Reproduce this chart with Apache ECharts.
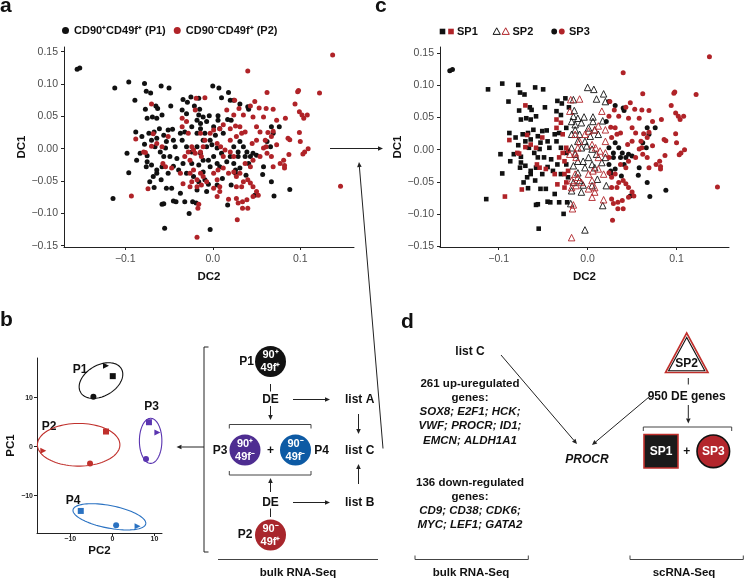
<!DOCTYPE html>
<html>
<head>
<meta charset="utf-8">
<script src="https://cdn.jsdelivr.net/npm/echarts@6/dist/echarts.min.js"></script>
<style>
  html, body { margin: 0; padding: 0; background: #fff; }
  #chart { width: 745px; height: 579px; }
</style>
</head>
<body>
<div id="chart"></div>
<script>
const FONT = '"Liberation Sans", Arial, sans-serif';
const BLACK = '#111111';
const RED = '#b02328';

// diffusion map cells: [DC2, DC1, scRNA cluster (1=SP1, 2=SP2, 3=SP3)]
const p1Cells = [
  [-0.155,0.123,3],[-0.152,0.125,3],
  [-0.112,0.094,1],[-0.096,0.103,1],[-0.078,0.101,1],[-0.076,0.089,1],[-0.071,0.086,1],[-0.089,0.075,1],[-0.059,0.097,1],[-0.050,0.094,1],
  [-0.077,0.061,1],[-0.065,0.066,1],[-0.063,0.062,1],[-0.048,0.066,1],
  [-0.075,0.047,1],[-0.069,0.049,1],[-0.064,0.047,1],[-0.058,0.052,1],
  [-0.034,0.076,1],[-0.029,0.072,1],[-0.025,0.080,1],[-0.016,0.078,2],[-0.035,0.060,1],[-0.030,0.054,1],[-0.021,0.066,1],[-0.015,0.061,2],
  [0.000,0.097,2],[0.007,0.094,2],[0.018,0.087,2],[0.010,0.079,2],[0.020,0.075,2],
  [-0.004,0.051,2],[0.006,0.051,2],[0.017,0.045,2],[0.021,0.044,3],
  [-0.088,0.026,1],[-0.081,0.019,1],[-0.073,0.024,1],[-0.067,0.026,1],[-0.061,0.031,1],[-0.056,0.021,1],[-0.051,0.029,1],[-0.046,0.030,1],
  [-0.098,-0.007,1],[-0.096,-0.037,1],[-0.078,0.007,1],[-0.076,-0.028,1],[-0.075,-0.011,1],[-0.072,-0.051,1],[-0.068,-0.043,1],[-0.064,-0.038,1],
  [-0.114,-0.077,1],[-0.055,-0.123,1],[-0.058,-0.086,1],[-0.056,-0.085,1],[-0.045,-0.081,1],[-0.042,-0.082,1],[-0.032,-0.082,1],[-0.027,-0.100,1],[-0.023,-0.082,1],[-0.019,-0.084,2],[-0.003,-0.125,2],
  [-0.037,-0.069,1],[-0.047,-0.061,1],[-0.053,-0.061,1],[-0.067,-0.060,1],[-0.059,-0.048,1],[-0.051,-0.038,1],[-0.045,-0.027,1],[-0.039,-0.033,1],[-0.034,-0.023,1],[-0.030,-0.038,1],[-0.022,-0.043,1],
  [-0.016,-0.051,2],[-0.011,-0.036,2],[-0.009,-0.048,2],[-0.005,-0.055,2],[-0.018,-0.064,2],[-0.007,-0.066,2],[0.005,-0.056,2],[0.011,-0.046,2],[0.017,-0.087,2],[0.021,-0.056,2],
  [0.026,-0.033,3],[0.031,-0.030,3],[0.041,-0.023,3],[0.043,-0.012,3],[0.046,-0.007,3],[0.050,-0.010,3],[0.058,-0.028,3],[0.057,-0.040,3],[0.067,-0.051,3],[0.070,-0.073,3],[0.088,-0.063,3],[0.048,-0.072,3],[0.038,-0.041,3],
  [0.040,0.065,3],[0.041,0.061,3],[0.031,0.069,3],[0.024,0.075,3],[0.067,0.034,3],[0.076,0.034,3],[0.069,0.024,3],[0.062,0.011,3],[0.066,0.003,3],
  [0.001,0.034,2],[0.006,0.044,2],[0.008,0.031,2],[0.012,0.024,2],[0.003,0.021,2],[-0.003,0.013,2],[-0.009,0.024,2],[-0.014,0.031,2],[-0.018,0.024,2],
  [-0.035,0.013,1],[-0.030,0.003,1],[-0.024,-0.005,1],[-0.018,0.003,2],[-0.014,-0.007,2],[-0.011,-0.018,2],[-0.016,-0.025,2],[-0.005,-0.018,2],[0.001,-0.012,2],[0.005,-0.023,2],[0.008,-0.028,2],[-0.003,-0.028,2],[-0.024,-0.023,1],
  [-0.011,0.013,2],[-0.007,0.003,2],[-0.001,0.006,2],[0.005,0.001,2],[0.010,-0.007,2],
  [-0.043,0.003,1],[-0.049,-0.012,1],[-0.041,-0.015,1],[-0.056,-0.012,1],[-0.060,-0.005,1],[-0.066,0.003,1],[-0.070,0.013,1],[-0.064,0.016,1],[-0.053,0.011,1],[-0.054,0.001,1],
  [-0.083,-0.007,1],[-0.087,-0.018,1],[-0.075,-0.020,1],[-0.070,-0.025,1],[-0.064,-0.033,1],[-0.058,-0.028,1],
  [-0.045,0.013,1],[-0.037,0.024,1],[-0.032,0.026,1],[-0.024,0.034,1],[-0.018,0.044,2],[-0.014,0.039,2],[-0.007,0.042,2],[-0.011,0.049,2],[-0.016,0.052,2],
  [0.024,0.003,3],[0.029,-0.005,3],[0.037,-0.012,3],[0.035,0.003,3],[0.031,0.011,3],[0.020,-0.012,2],[0.016,-0.020,2],[0.024,-0.023,3],[0.026,-0.038,3],[0.029,-0.012,3],[0.039,-0.005,3]
];

const p2Cells = [
  [0.137,0.145,3],[0.040,0.120,3],[0.146,-0.058,3],[0.122,0.086,3],[0.097,0.088,3],[0.098,0.090,3],[0.062,0.087,3],[0.048,0.073,3],[0.025,0.075,3],[0.030,0.062,3],
  [-0.009,0.079,2],[-0.019,0.078,2],[-0.020,0.060,2],[-0.070,0.069,1],[0.016,0.060,2],[0.024,0.052,3],[0.035,0.052,3],[0.043,0.066,3],[0.053,0.063,3],[0.061,0.062,3],[0.069,0.061,3],
  [0.083,0.047,3],[0.102,0.052,3],[0.108,0.052,3],[0.104,0.047,3],[0.094,0.069,3],[0.099,0.057,3],[0.099,0.025,3],[0.088,0.014,3],[0.109,0.000,3],[0.105,-0.005,3],[0.103,-0.008,3],
  [0.087,-0.009,3],[0.081,-0.018,3],[0.082,-0.026,3],[0.082,-0.030,3],[0.069,-0.028,3],[0.073,0.006,3],[0.067,0.019,3],[0.069,0.027,3],[0.063,0.025,3],
  [0.054,0.026,3],[0.060,0.013,3],[0.050,0.013,3],[0.045,0.008,3],[0.061,0.003,3],[0.062,-0.007,3],
  [0.054,-0.012,3],[0.046,-0.018,3],[0.043,-0.028,3],[0.037,-0.023,3],
  [0.040,-0.048,3],[0.043,-0.053,3],[0.046,-0.059,3],[0.050,-0.066,3],[0.052,-0.072,3],[0.046,-0.074,3],
  [0.039,-0.079,3],[0.034,-0.092,3],[0.040,-0.092,3],[0.034,-0.082,3],[0.029,-0.084,3],[0.027,-0.077,3],[0.028,-0.110,3],
  [0.018,-0.078,2],[0.008,-0.066,2],[0.005,-0.074,2],[0.001,-0.061,2],
  [-0.016,-0.086,2],[-0.017,-0.092,2],[-0.018,-0.137,2],[-0.074,-0.062,1],[-0.093,-0.073,1],[-0.088,0.015,1],[-0.077,-0.006,1],[-0.070,0.004,1],[-0.068,0.023,1],
  [-0.058,0.003,1],[-0.057,-0.023,1],[-0.054,-0.028,1],[-0.047,-0.030,1],
  [-0.035,0.034,1],[-0.030,0.042,1],[-0.035,0.047,1],[-0.028,0.024,1],
  [-0.024,0.003,1],[-0.022,-0.002,1],[-0.020,-0.007,2],[-0.028,-0.005,1],[-0.026,-0.018,1],[-0.032,-0.012,1],
  [-0.014,0.024,2],[-0.009,0.013,2],[-0.003,0.024,2],[0.001,0.029,2],[0.008,0.031,2],[0.012,0.037,2],[0.020,0.031,2],[0.026,0.035,3],
  [0.020,0.013,2],[0.027,0.019,3],[0.033,0.024,3],[0.037,0.026,3],[0.031,0.034,3],
  [0.005,0.008,2],[0.009,0.003,2],[0.014,-0.002,2],[0.020,-0.005,2],[0.024,-0.012,3],[0.012,-0.012,2],
  [-0.011,0.003,2],[-0.014,-0.005,2],[-0.013,-0.012,2],
  [-0.022,-0.033,1],[-0.014,-0.038,2],[-0.011,-0.043,2],[-0.007,-0.051,2],[-0.013,-0.056,2],[-0.018,-0.059,2],
  [-0.026,-0.059,1],[-0.024,-0.051,1],[-0.018,-0.048,2],
  [0.001,-0.038,2],[0.006,-0.033,2],[0.012,-0.030,2],[0.018,-0.038,2],[0.024,-0.036,3],[0.027,-0.043,3],
  [0.031,-0.038,3],[0.035,-0.051,3],[0.033,-0.059,3],[0.027,-0.059,3],
  [0.005,-0.048,2],[0.008,-0.059,2],
  [-0.037,-0.038,1],[-0.034,-0.054,1],[-0.026,-0.038,1],
  [0.046,0.049,3],[0.058,0.049,3],[0.050,0.034,3],[0.073,0.044,3],[0.058,0.001,3],[0.067,-0.012,3],[0.086,0.016,3],[0.100,0.011,3],[0.077,-0.023,3],
  [-0.079,-0.005,1],[-0.064,0.008,1],[-0.051,0.019,1]
];

const dcXTicks = [-0.1, 0, 0.1];
const dcYTicks = [-0.15, -0.1, -0.05, 0, 0.05, 0.1, 0.15];
const pcTicks = [-10, 0, 10];

// bulk RNA-seq PCA replicates: [PC2, PC1, replicate shape]
const pcaP1 = [[-1.5, 16.5, 'tri'], [0.1, 14.4, 'sq'], [-4.5, 10.2, 'dot']];
const pcaP2 = [[-16.4, -0.8, 'tri'], [-1.5, 3.1, 'sq'], [-5.3, -3.4, 'dot']];
const pcaP3 = [[10.7, 2.9, 'tri'], [8.7, 5.0, 'sq'], [8.0, -2.5, 'dot']];
const pcaP4 = [[6.0, -16.2, 'tri'], [-7.5, -13.1, 'sq'], [0.9, -16.0, 'dot']];
// ellipse per population: [centre PC2, centre PC1, half width, half height, tilt deg]
const pcaEllipses = [[-2.7, 13.5, 5.6, 3.15, 30], [-8.0, 0.4, 9.8, 4.35, 0], [9.1, 1.2, 2.67, 4.6, 0], [-0.7, -14.3, 8.8, 2.3, -11]];
const pcaColors = [BLACK, '#c0302c', '#5a34b0', '#2a72c2'];

const upGenes = ['SOX8; E2F1; HCK;', 'VWF; PROCR; ID1;', 'EMCN; ALDH1A1'];
const downGenes = ['CD9; CD38; CDK6;', 'MYC; LEF1; GATA2'];

const shapeSymbol = {tri: ['triangle', -90], sq: ['rect', 0], dot: ['circle', 0]};

function fmt(d) {
  return v => (v < -1e-9 ? '\u2212' : '') + Math.abs(v).toFixed(d);
}

function axis(gi, min, max, ticks, d, name, gap, lblSize, nameSize, lblMargin, bold) {
  return {
    type: 'value', gridIndex: gi, min: min, max: max,
    name: name, nameLocation: 'middle', nameGap: gap,
    nameTextStyle: {fontFamily: FONT, fontWeight: 'bold', fontSize: nameSize, color: '#111'},
    axisLine: {show: true, onZero: false, lineStyle: {color: '#222', width: 1}},
    axisTick: {show: true, customValues: ticks, length: 3, lineStyle: {color: '#222'}},
    axisLabel: {customValues: ticks, formatter: fmt(d), fontFamily: FONT, fontSize: lblSize,
                fontWeight: bold ? 'bold' : 'normal', color: bold ? '#222' : '#4d4d4d', margin: lblMargin},
    splitLine: {show: false}
  };
}

const series = [
  {type: 'scatter', name: 'CD90\u207aCD49f\u207a (P1)', xAxisIndex: 0, yAxisIndex: 0, symbolSize: 5,
   data: p1Cells.map(c => [c[0], c[1]]), itemStyle: {color: BLACK, opacity: 1}},
  {type: 'scatter', name: 'CD90\u207bCD49f\u207a (P2)', xAxisIndex: 0, yAxisIndex: 0, symbolSize: 5,
   data: p2Cells.map(c => [c[0], c[1]]), itemStyle: {color: RED, opacity: 1}}
];

// panel c: same cells, shaped by scRNA cluster
const spStyle = {1: ['rect', 4.6, false], 2: ['triangle', 6.5, true], 3: ['circle', 5, false]};
[1, 2, 3].forEach(sp => {
  [[p1Cells, BLACK], [p2Cells, RED]].forEach(([cells, col]) => {
    const s = spStyle[sp];
    series.push({
      type: 'scatter', xAxisIndex: 1, yAxisIndex: 1, symbol: s[0], symbolSize: s[1],
      data: cells.filter(c => c[2] === sp).map(c => [c[0], c[1]]),
      itemStyle: s[2] ? {color: 'rgba(255,255,255,0)', borderColor: col, borderWidth: 0.9, opacity: 1}
                      : {color: col, opacity: 1}
    });
  });
});

series.push({
  type: 'custom', xAxisIndex: 2, yAxisIndex: 2, data: pcaEllipses, silent: true,
  renderItem: function (params, api) {
    const c = api.coord([api.value(0), api.value(1)]);
    const s = api.size([api.value(2), api.value(3)]);
    const t = api.value(4) * Math.PI / 180;
    const pts = [];
    for (let i = 0; i < 90; i++) {
      const u = i / 90 * 2 * Math.PI;
      const ex = s[0] * Math.cos(u), ey = -s[1] * Math.sin(u);
      pts.push([c[0] + ex * Math.cos(t) + ey * Math.sin(t), c[1] - ex * Math.sin(t) + ey * Math.cos(t)]);
    }
    return {type: 'polygon', shape: {points: pts},
            style: {fill: 'none', stroke: pcaColors[params.dataIndex], lineWidth: 1.1}};
  }
});

[pcaP1, pcaP2, pcaP3, pcaP4].forEach((grp, i) => {
  series.push({
    type: 'scatter', xAxisIndex: 2, yAxisIndex: 2, symbolSize: 6,
    itemStyle: {color: pcaColors[i], opacity: 1},
    data: grp.map(p => ({value: [p[0], p[1]], symbol: shapeSymbol[p[2]][0], symbolRotate: shapeSymbol[p[2]][1]}))
  });
});

// ---- drawn annotations (panel letters, schematics, arrows)
const g = [];
function txt(x, y, text, size, opt) {
  opt = opt || {};
  const f = (opt.italic ? 'italic ' : '') + (opt.weight || 'bold') + ' ' + size + 'px ' + FONT;
  g.push({type: 'text', x: x, y: y, silent: true, style: {
    text: text, font: f, fill: opt.fill || '#111',
    textAlign: opt.align || 'center', align: opt.align || 'center',
    textVerticalAlign: 'middle', verticalAlign: 'middle'}});
}
function seg(x1, y1, x2, y2, col, w) {
  g.push({type: 'line', silent: true, shape: {x1: x1, y1: y1, x2: x2, y2: y2},
          style: {stroke: col || '#222', lineWidth: w || 1}});
}
function arrow(x1, y1, x2, y2) {
  const a = Math.atan2(y2 - y1, x2 - x1), L = 5, W = 2.3;
  const bx = x2 - L * Math.cos(a), by = y2 - L * Math.sin(a);
  seg(x1, y1, bx, by);
  g.push({type: 'polygon', silent: true, shape: {points: [[x2, y2],
    [bx - W * Math.sin(a), by + W * Math.cos(a)], [bx + W * Math.sin(a), by - W * Math.cos(a)]]},
    style: {fill: '#222'}});
}
function node(cx, cy, fill, l1, l2) {
  g.push({type: 'circle', silent: true, shape: {cx: cx, cy: cy, r: 15.5}, style: {fill: fill}});
  txt(cx, cy - 6.5, l1, 11, {fill: '#fff'});
  txt(cx, cy + 6.5, l2, 11, {fill: '#fff'});
}
function bracket(x1, x2, y, dir) {
  seg(x1, y, x2, y, '#444');
  seg(x1, y, x1, y + dir * 4, '#444');
  seg(x2, y, x2, y + dir * 4, '#444');
}

// panel letters
txt(0, 6, 'a', 21, {align: 'left'});
txt(375, 6.5, 'c', 21, {align: 'left'});
txt(0, 320.5, 'b', 21, {align: 'left'});
txt(401, 322, 'd', 21, {align: 'left'});

// legend c
g.push({type: 'rect', silent: true, shape: {x: 439.7, y: 28.7, width: 5.6, height: 5.6}, style: {fill: BLACK}});
g.push({type: 'rect', silent: true, shape: {x: 448.2, y: 28.7, width: 5.6, height: 5.6}, style: {fill: RED}});
txt(457, 31.5, 'SP1', 11, {align: 'left'});
[[496.7, BLACK], [505.7, RED]].forEach(([x, c]) => {
  g.push({type: 'polygon', silent: true, shape: {points: [[x, 27.8], [x - 3.6, 34.4], [x + 3.6, 34.4]]},
          style: {fill: 'none', stroke: c, lineWidth: 1}});
});
txt(512.5, 31.5, 'SP2', 11, {align: 'left'});
g.push({type: 'circle', silent: true, shape: {cx: 554.2, cy: 31.5, r: 2.9}, style: {fill: BLACK}});
g.push({type: 'circle', silent: true, shape: {cx: 561.8, cy: 31.5, r: 2.9}, style: {fill: RED}});
txt(569, 31.5, 'SP3', 11, {align: 'left'});

// links between panels
arrow(330, 148.5, 383, 148.5);
arrow(383, 448.5, 359, 162);

// panel b: PCA labels
txt(80, 369.5, 'P1', 12);
txt(49, 427, 'P2', 12);
txt(151.5, 407, 'P3', 12);
txt(73, 501, 'P4', 12);

// panel b: bulk RNA-Seq scheme
seg(204, 347, 204, 552); seg(204, 347, 208.5, 347); seg(204, 552, 208.5, 552);
arrow(204, 447, 176.5, 447);
node(270.5, 361.5, '#121212', '90\u207a', '49f\u207a');
txt(246.5, 362, 'P1', 12);
seg(270.5, 384, 270.5, 391.5);
txt(270.5, 399.5, 'DE', 12);
arrow(270.5, 406, 270.5, 420);
bracket(229.3, 311, 424.5, 1);
node(245, 450, '#4e2d91', '90\u207a', '49f\u207b');
txt(270.5, 451, '+', 12);
node(295.5, 450, '#0d5aa4', '90\u207b', '49f\u207b');
txt(220, 450.5, 'P3', 12);
txt(321.5, 450.5, 'P4', 12);
bracket(229.3, 311, 475, -1);
arrow(270.5, 492, 270.5, 478);
txt(270.5, 502.5, 'DE', 12);
seg(270.5, 508.5, 270.5, 517);
node(270.5, 535, '#a8262c', '90\u207b', '49f\u207a');
txt(245, 535, 'P2', 12);
arrow(293, 399.5, 330, 399.5);
arrow(293, 502.5, 330, 502.5);
txt(345, 399.5, 'list A', 12, {align: 'left'});
txt(345, 450.5, 'list C', 12, {align: 'left'});
txt(345, 502.5, 'list B', 12, {align: 'left'});
arrow(358.5, 414, 358.5, 434);
arrow(358.5, 484, 358.5, 464);
seg(218, 559.5, 378, 559.5, '#444');
txt(298, 573, 'bulk RNA-Seq', 11.5);

// panel d
txt(470, 352, 'list C', 12);
txt(470, 383.5, '261 up-uregulated', 11.5);
txt(470, 397.5, 'genes:', 11.5);
upGenes.forEach((s, i) => txt(470, 412 + i * 14.3, s, 11.5, {italic: true}));
txt(470, 482.5, '136 down-regulated', 11.5);
txt(470, 497, 'genes:', 11.5);
downGenes.forEach((s, i) => txt(470, 511 + i * 14.3, s, 11.5, {italic: true}));
arrow(501, 355, 577, 444);
arrow(649, 397, 592, 445);
txt(587, 459.5, 'PROCR', 12, {italic: true});

g.push({type: 'polygon', silent: true, shape: {points: [[686.7, 333], [665.5, 372.5], [708, 372.5]]},
        style: {fill: '#fff', stroke: '#c0302c', lineWidth: 1.6}});
g.push({type: 'polygon', silent: true, shape: {points: [[686.7, 337.5], [668.6, 370.8], [704.8, 370.8]]},
        style: {fill: 'none', stroke: '#111', lineWidth: 1.1}});
txt(686.7, 363.5, 'SP2', 12);
seg(688.3, 378, 688.3, 384.5);
txt(686.7, 396.5, '950 DE genes', 12);
arrow(688.3, 405, 688.3, 423.5);
bracket(643.3, 731.7, 427, 1);
g.push({type: 'rect', silent: true, shape: {x: 644, y: 434.5, width: 34, height: 33.5},
        style: {fill: '#1a1a1a', stroke: '#c0302c', lineWidth: 1.6}});
txt(661, 451.5, 'SP1', 12, {fill: '#fff'});
txt(686.7, 452, '+', 12);
g.push({type: 'circle', silent: true, shape: {cx: 713.3, cy: 451.3, r: 16.3},
        style: {fill: '#b3262c', stroke: '#111', lineWidth: 1.6}});
txt(713.3, 451.5, 'SP3', 12, {fill: '#fff'});
bracket(415, 528.3, 559.5, -1);
txt(471, 573, 'bulk RNA-Seq', 11.5);
bracket(630, 743.3, 559.5, -1);
txt(684, 573, 'scRNA-Seq', 11.5);

const chart = echarts.init(document.getElementById('chart'));
chart.setOption({
  animation: false,
  backgroundColor: '#fff',
  textStyle: {fontFamily: FONT},
  legend: {
    data: ['CD90\u207aCD49f\u207a (P1)', 'CD90\u207bCD49f\u207a (P2)'],
    left: 62, top: 25, padding: 0, icon: 'circle', itemWidth: 7, itemHeight: 7, itemGap: 8,
    selectedMode: false,
    textStyle: {fontFamily: FONT, fontWeight: 'bold', fontSize: 11, color: '#111'}
  },
  grid: [
    {left: 64, top: 47, width: 290, height: 200},
    {left: 440, top: 47, width: 289, height: 200},
    {left: 37, top: 358, width: 125, height: 175}
  ],
  xAxis: [
    axis(0, -0.170, 0.1614, dcXTicks, 1, 'DC2', 24, 10.5, 11.5, 7, false),
    axis(1, -0.166, 0.159, dcXTicks, 1, 'DC2', 24, 10.5, 11.5, 7, false),
    axis(2, -17.9, 11.8, pcTicks, 0, 'PC2', 12, 7, 11.5, 3, true)
  ],
  yAxis: [
    axis(0, -0.152, 0.1573, dcYTicks, 2, 'DC1', 30, 10.5, 11.5, 6, false),
    axis(1, -0.1516, 0.160, dcYTicks, 2, 'DC1', 30, 10.5, 11.5, 6, false),
    axis(2, -17.6, 18.1, pcTicks, 0, 'PC1', 9, 7, 11.5, 4, true)
  ],
  series: series,
  graphic: {elements: g}
});
</script>
</body>
</html>
